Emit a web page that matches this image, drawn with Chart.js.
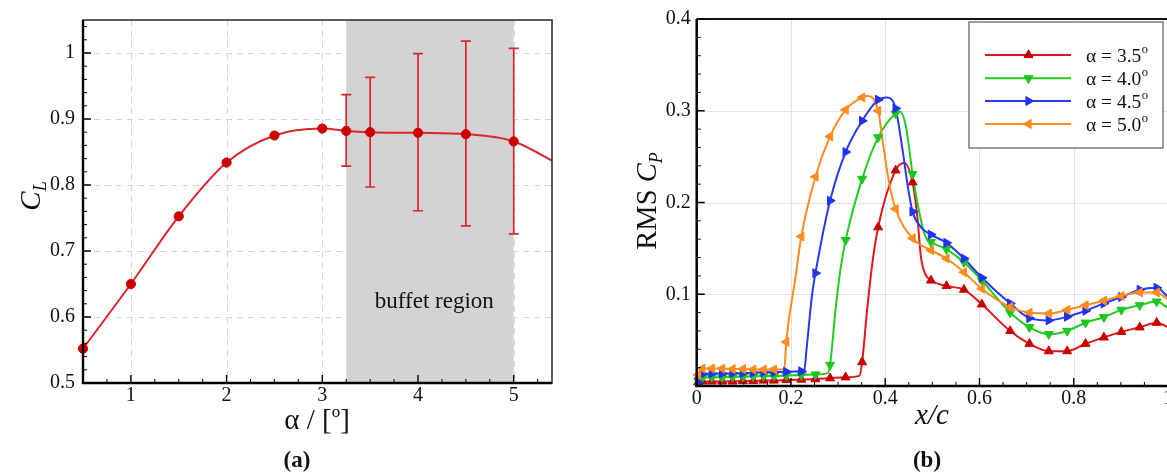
<!DOCTYPE html>
<html><head><meta charset="utf-8">
<script src="https://cdn.jsdelivr.net/npm/chart.js@4.4.1/dist/chart.umd.min.js"></script>
<style>
html,body{margin:0;padding:0;width:1167px;height:475px;overflow:hidden;background:#fff;}
#wrap{position:relative;width:1167px;height:475px;overflow:hidden;background:#fff;}
#ca{position:absolute;left:0;top:0;}
#cb{position:absolute;left:600px;top:0;}
</style></head><body>
<div id="wrap"><canvas id="ca" width="600" height="475"></canvas><canvas id="cb" width="600" height="475"></canvas></div>
<script>
// ---------------- Panel (a) data ----------------
const alphaA = [0.5, 1.0, 1.5, 2.0, 2.5, 3.0, 3.25, 3.5, 4.0, 4.5, 5.0];
const clA    = [0.552, 0.650, 0.7525, 0.834, 0.875, 0.8855, 0.882, 0.880, 0.879, 0.877, 0.866];
const tailAlphaA = [5.5];
const tailClA    = [0.829];
const errAlphaA = [3.25, 3.5, 4.0, 4.5, 5.0];
const errLowA   = [0.8285, 0.797, 0.761, 0.738, 0.726];
const errHighA  = [0.937, 0.963, 0.999, 1.018, 1.007];
const buffetA   = [3.25, 5.0];
const xTicksA = [1, 2, 3, 4, 5];
const xTickLabelsA = ['1', '2', '3', '4', '5'];
const yTicksA = [0.5, 0.6, 0.7, 0.8, 0.9, 1.0];
const yTickLabelsA = ['0.5', '0.6', '0.7', '0.8', '0.9', '1'];

// ---------------- Panel (b) data ----------------
const xMkB = [0.003,0.012,0.032,0.054,0.076,0.098,0.120,0.142,0.164,0.190,0.222,0.252,0.283,0.316,0.351,0.385,0.422,0.458,0.497,0.530,0.567,0.605,0.665,0.706,0.747,0.786,0.825,0.864,0.901,0.940,0.976];
const mk35 = [0.004,0.005,0.005,0.005,0.005,0.0055,0.0055,0.006,0.006,0.0065,0.007,0.0075,0.0085,0.0095,0.026,0.173,0.235,0.222,0.115,0.109,0.105,0.089,0.060,0.046,0.038,0.038,0.046,0.053,0.059,0.064,0.069];
const mk40 = [0.006,0.009,0.0095,0.0095,0.010,0.010,0.0105,0.011,0.011,0.0115,0.012,0.0125,0.023,0.159,0.2257,0.271,0.297,0.231,0.157,0.149,0.135,0.115,0.080,0.064,0.0565,0.060,0.069,0.075,0.083,0.088,0.092];
const mk45 = [0.004,0.013,0.0135,0.0135,0.014,0.014,0.0145,0.015,0.015,0.0155,0.016,0.123,0.202,0.255,0.289,0.312,0.3025,0.190,0.165,0.156,0.139,0.118,0.090,0.074,0.0715,0.0755,0.082,0.090,0.097,0.105,0.107];
const mk50 = [0.012,0.019,0.019,0.019,0.0185,0.0185,0.018,0.018,0.018,0.048,0.163,0.228,0.272,0.301,0.3145,0.300,0.193,0.161,0.148,0.139,0.124,0.106,0.086,0.080,0.079,0.083,0.088,0.093,0.098,0.102,0.102];
// curve points between markers (no marker drawn)
const ex35X = [0, 0.345, 0.361, 0.372, 0.440, 0.468, 0.476, 0.486, 1.0];
const ex35Y = [0.003, 0.011, 0.080, 0.131, 0.243, 0.185, 0.140, 0.121, 0.064];
const ex40X = [0, 0.278, 0.294, 0.305, 0.432, 0.445, 0.472, 0.485, 1.0];
const ex40Y = [0.002, 0.014, 0.080, 0.127, 0.299, 0.280, 0.190, 0.163, 0.085];
const ex45X = [0, 0.228, 0.234, 0.2445, 0.404, 0.436, 0.449, 0.476, 1.0];
const ex45Y = [0.002, 0.017, 0.045, 0.098, 0.3145, 0.260, 0.214, 0.173, 0.097];
const ex50X = [0, 0.186, 0.209, 0.362, 0.396, 0.407, 1.0];
const ex50Y = [0.008, 0.018, 0.116, 0.316, 0.262, 0.225, 0.094];
const seriesNamesB = ['3.5', '4.0', '4.5', '5.0'];
const xTicksB = [0, 0.2, 0.4, 0.6, 0.8, 1.0];
const xTickLabelsB = ['0', '0.2', '0.4', '0.6', '0.8', '1'];
const yTicksB = [0.1, 0.2, 0.3, 0.4];
const yTickLabelsB = ['0.1', '0.2', '0.3', '0.4'];

// ---------------- helpers ----------------
const SERIF = '"Liberation Serif", "Times New Roman", serif';
const TXT = '#111';
const TICK_FONT = 20;
function pairs(xs, ys) { return xs.map((x, i) => ({x: x, y: ys[i]})); }
function merged(xs1, ys1, xs2, ys2) { return pairs(xs1, ys1).concat(pairs(xs2, ys2)).sort((a, b) => a.x - b.x); }
function steps(a, b, s) { const r = []; for (let v = a; v <= b + 1e-9; v += s) r.push(+v.toFixed(4)); return r; }
function drawParts(ctx, cx, base, parts, rotate) {
  ctx.save();
  ctx.translate(cx, base);
  if (rotate) ctx.rotate(-Math.PI / 2);
  let w = 0;
  parts.forEach(p => { ctx.font = p.font; p.w = ctx.measureText(p.t).width; w += p.w; });
  let xx = -w / 2;
  ctx.textAlign = 'left'; ctx.textBaseline = 'alphabetic'; ctx.fillStyle = TXT;
  parts.forEach(p => { ctx.font = p.font; ctx.fillText(p.t, xx, p.dy || 0); xx += p.w; });
  ctx.restore();
}
function drawTicks(ctx, a, xs, ys, xMaj, xMin, yMaj, yMin) {
  ctx.save();
  ctx.strokeStyle = '#000';
  ctx.lineWidth = 1.4; ctx.beginPath();
  xMaj.forEach(v => { const p = xs.getPixelForValue(v); ctx.moveTo(p, a.bottom); ctx.lineTo(p, a.bottom - 8); });
  yMaj.forEach(v => { const p = ys.getPixelForValue(v); ctx.moveTo(a.left, p); ctx.lineTo(a.left + 8, p); });
  ctx.stroke();
  ctx.lineWidth = 1; ctx.beginPath();
  xMin.forEach(v => { const p = xs.getPixelForValue(v); ctx.moveTo(p, a.bottom); ctx.lineTo(p, a.bottom - 4); });
  yMin.forEach(v => { const p = ys.getPixelForValue(v); ctx.moveTo(a.left, p); ctx.lineTo(a.left + 4, p); });
  ctx.stroke();
  ctx.restore();
}
function notIn(list, arr) { return list.filter(v => !arr.some(m => Math.abs(m - v) < 1e-6)); }

// ---------------- Panel (a) ----------------
const RED_A = '#d8262e';
const RED_A_PT = '#cc0000';
const panelA = {
  id: 'panelA',
  beforeDatasetsDraw(chart) {
    const ctx = chart.ctx, a = chart.chartArea, x = chart.scales.x, y = chart.scales.y;
    ctx.save();
    ctx.strokeStyle = '#d4d4d4'; ctx.lineWidth = 1; ctx.setLineDash([6, 5]);
    ctx.beginPath();
    xTicksA.forEach(v => { const p = Math.round(x.getPixelForValue(v)) + 0.5; ctx.moveTo(p, a.top); ctx.lineTo(p, a.bottom); });
    yTicksA.forEach(v => { if (v <= y.min) return; const p = Math.round(y.getPixelForValue(v)) + 0.5; ctx.moveTo(a.left, p); ctx.lineTo(a.right, p); });
    ctx.stroke(); ctx.setLineDash([]);
    const x0 = x.getPixelForValue(buffetA[0]), x1 = x.getPixelForValue(buffetA[1]);
    ctx.fillStyle = '#d3d3d3';
    ctx.fillRect(x0, a.top, x1 - x0, a.bottom - a.top);
    ctx.fillStyle = TXT; ctx.font = '23px ' + SERIF; ctx.textAlign = 'center'; ctx.textBaseline = 'alphabetic';
    ctx.fillText('buffet region', x.getPixelForValue(4.17), y.getPixelForValue(0.613));
    ctx.strokeStyle = RED_A; ctx.lineWidth = 1.7;
    ctx.beginPath();
    errAlphaA.forEach((v, i) => {
      const p = x.getPixelForValue(v), pl = y.getPixelForValue(errLowA[i]), ph = y.getPixelForValue(errHighA[i]);
      ctx.moveTo(p, pl); ctx.lineTo(p, ph);
      ctx.moveTo(p - 5, pl); ctx.lineTo(p + 5, pl);
      ctx.moveTo(p - 5, ph); ctx.lineTo(p + 5, ph);
    });
    ctx.stroke();
    ctx.restore();
  },
  afterDraw(chart) {
    const ctx = chart.ctx, a = chart.chartArea, x = chart.scales.x, y = chart.scales.y;
    ctx.save();
    ctx.strokeStyle = '#333'; ctx.lineWidth = 1.6;
    ctx.strokeRect(a.left, a.top, a.right - a.left, a.bottom - a.top);
    ctx.strokeStyle = '#000'; ctx.lineWidth = 2.4;
    ctx.beginPath(); ctx.moveTo(a.left, a.top); ctx.lineTo(a.left, a.bottom); ctx.lineTo(a.right, a.bottom); ctx.stroke();
    ctx.restore();
    drawTicks(ctx, a, x, y, xTicksA, notIn(steps(0.5, 5.4, 0.25), xTicksA), yTicksA, notIn(steps(0.5, 1.05, 0.02), yTicksA));
    drawParts(ctx, 40, 196, [
      {t: 'C', font: 'italic 29px ' + SERIF, dy: 0},
      {t: 'L', font: 'italic 18px ' + SERIF, dy: 6}], true);
    drawParts(ctx, 317, 429, [
      {t: 'α / [', font: '29px ' + SERIF},
      {t: 'o', font: '17px ' + SERIF, dy: -12},
      {t: ']', font: '29px ' + SERIF}], false);
    drawParts(ctx, 297, 467, [{t: '(a)', font: 'bold 23px ' + SERIF}], false);
  }
};

new Chart(document.getElementById('ca'), {
  type: 'line',
  data: {datasets: [
    {data: merged(alphaA, clA, tailAlphaA, tailClA), borderColor: RED_A, borderWidth: 2, pointRadius: 0,
     cubicInterpolationMode: 'monotone', fill: false, order: 5},
    {data: pairs(alphaA, clA), showLine: false, pointRadius: 4.6, pointBackgroundColor: RED_A_PT,
     pointBorderColor: RED_A_PT, pointBorderWidth: 1, clip: false, order: 1}
  ]},
  options: {
    responsive: false, animation: false, devicePixelRatio: 1,
    layout: {padding: {left: 0, right: 48, top: 18, bottom: 0}},
    plugins: {legend: {display: false}, tooltip: {enabled: false}},
    scales: {
      x: {type: 'linear', min: 0.5, max: 5.4,
          afterBuildTicks: s => { s.ticks = xTicksA.map(v => ({value: v})); },
          afterFit: s => { s.height = 92; },
          grid: {display: false, drawTicks: false, tickLength: 0}, border: {display: false},
          ticks: {autoSkip: false, maxRotation: 0, padding: 1, color: TXT,
                  font: {family: SERIF, size: TICK_FONT}, callback: (v, i) => xTickLabelsA[i]}},
      y: {type: 'linear', min: 0.5, max: 1.05,
          afterBuildTicks: s => { s.ticks = yTicksA.map(v => ({value: v})); },
          afterFit: s => { s.width = 83; },
          grid: {display: false, drawTicks: false, tickLength: 0}, border: {display: false},
          ticks: {autoSkip: false, padding: 8, color: TXT,
                  font: {family: SERIF, size: TICK_FONT}, callback: (v, i) => yTickLabelsA[i]}}
    }
  },
  plugins: [panelA]
});

// ---------------- Panel (b) ----------------
const COLB = ['#e0161e', '#1fcc1f', '#2638f2', '#ff8a1e'];
const COLB_PT = ['#c80000', '#1fc41f', '#2233f0', '#ff8a1e'];
const ROTB = [0, 180, 90, 270];
const mkB = [mk35, mk40, mk45, mk50];
const exB = [[ex35X, ex35Y], [ex40X, ex40Y], [ex45X, ex45Y], [ex50X, ex50Y]];

const dsB = [];
mkB.forEach((mk, k) => {
  dsB.push({data: merged(xMkB, mk, exB[k][0], exB[k][1]), borderColor: COLB[k], borderWidth: 2, pointRadius: 0,
            cubicInterpolationMode: 'monotone', fill: false, order: 20 - k});
  dsB.push({data: pairs(xMkB, mk), showLine: false, pointStyle: 'triangle', pointRotation: ROTB[k], pointRadius: 5.2,
            pointBackgroundColor: COLB_PT[k], pointBorderColor: COLB_PT[k], pointBorderWidth: 1, clip: false, order: 10 - k});
});

const panelB = {
  id: 'panelB',
  beforeDatasetsDraw(chart) {
    const ctx = chart.ctx, a = chart.chartArea, x = chart.scales.x, y = chart.scales.y;
    ctx.save();
    ctx.strokeStyle = '#e2e2e2'; ctx.lineWidth = 1;
    ctx.beginPath();
    xTicksB.forEach(v => { if (v <= x.min) return; const p = Math.round(x.getPixelForValue(v)) + 0.5; ctx.moveTo(p, a.top); ctx.lineTo(p, a.bottom); });
    yTicksB.forEach(v => { if (v >= y.max) return; const p = Math.round(y.getPixelForValue(v)) + 0.5; ctx.moveTo(a.left, p); ctx.lineTo(a.right, p); });
    ctx.stroke();
    ctx.restore();
  },
  afterDraw(chart) {
    const ctx = chart.ctx, a = chart.chartArea, x = chart.scales.x, y = chart.scales.y;
    ctx.save();
    ctx.strokeStyle = '#111'; ctx.lineWidth = 2;
    ctx.beginPath(); ctx.moveTo(a.left, a.top); ctx.lineTo(a.right, a.top); ctx.lineTo(a.right, a.bottom); ctx.stroke();
    ctx.strokeStyle = '#000'; ctx.lineWidth = 2.5;
    ctx.beginPath(); ctx.moveTo(a.left, a.top); ctx.lineTo(a.left, a.bottom); ctx.lineTo(a.right, a.bottom); ctx.stroke();
    ctx.restore();
    drawTicks(ctx, a, x, y, xTicksB, notIn(steps(0, 1, 0.05), xTicksB), yTicksB, notIn(steps(0, 0.4, 0.02), yTicksB));
    // legend
    ctx.save();
    ctx.fillStyle = '#fff'; ctx.fillRect(369, 22, 194, 126);
    ctx.strokeStyle = '#7a7a7a'; ctx.lineWidth = 1.5; ctx.strokeRect(369, 22, 194, 126);
    const rows = [55, 78.3, 101, 124];
    seriesNamesB.forEach((nm, k) => {
      const ry = rows[k];
      ctx.strokeStyle = COLB[k]; ctx.lineWidth = 2;
      ctx.beginPath(); ctx.moveTo(385, ry); ctx.lineTo(471, ry); ctx.stroke();
      ctx.fillStyle = COLB_PT[k]; ctx.strokeStyle = COLB_PT[k]; ctx.lineWidth = 1;
      Chart.helpers.drawPoint(ctx, {pointStyle: 'triangle', rotation: ROTB[k], radius: 5.2, borderWidth: 1}, 428.5, ry);
      ctx.fillStyle = TXT; ctx.textAlign = 'left'; ctx.textBaseline = 'alphabetic';
      ctx.font = '19.5px ' + SERIF;
      const t = 'α = ' + nm;
      ctx.fillText(t, 486, ry + 6.5);
      const w = ctx.measureText(t).width;
      ctx.font = '12.5px ' + SERIF;
      ctx.fillText('o', 486 + w + 0.5, ry - 2.5);
    });
    ctx.restore();
    drawParts(ctx, 56, 201, [
      {t: 'RMS ', font: '28.5px ' + SERIF, dy: 0},
      {t: 'C', font: 'italic 28.5px ' + SERIF, dy: 0},
      {t: 'P', font: 'italic 18px ' + SERIF, dy: 6}], true);
    drawParts(ctx, 332, 424, [{t: 'x/c', font: 'italic 29px ' + SERIF}], false);
    drawParts(ctx, 327, 467, [{t: '(b)', font: 'bold 23px ' + SERIF}], false);
  }
};

new Chart(document.getElementById('cb'), {
  type: 'line',
  data: {datasets: dsB},
  options: {
    responsive: false, animation: false, devicePixelRatio: 1,
    layout: {padding: {left: 0, right: 32, top: 19, bottom: 0}},
    plugins: {legend: {display: false}, tooltip: {enabled: false}},
    scales: {
      x: {type: 'linear', min: 0, max: 1.0,
          afterBuildTicks: s => { s.ticks = xTicksB.map(v => ({value: v})); },
          afterFit: s => { s.height = 89; },
          grid: {display: false, drawTicks: false, tickLength: 0}, border: {display: false},
          ticks: {autoSkip: false, maxRotation: 0, padding: 1, color: TXT,
                  font: {family: SERIF, size: TICK_FONT}, callback: (v, i) => xTickLabelsB[i]}},
      y: {type: 'linear', min: 0, max: 0.4,
          afterBuildTicks: s => { s.ticks = yTicksB.map(v => ({value: v})); },
          afterFit: s => { s.width = 96.7; },
          grid: {display: false, drawTicks: false, tickLength: 0}, border: {display: false},
          ticks: {autoSkip: false, padding: 6, color: TXT,
                  font: {family: SERIF, size: TICK_FONT}, callback: (v, i) => yTickLabelsB[i]}}
    }
  },
  plugins: [panelB]
});
</script>
</body></html>
